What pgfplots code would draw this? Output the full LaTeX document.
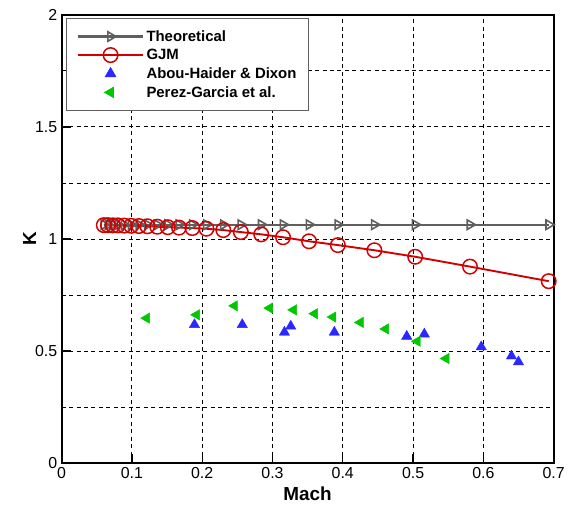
\documentclass[border=0pt]{standalone}
\usepackage{pgfplots}
\pgfplotsset{compat=1.18}
\usepackage{fontspec}
\setmainfont{Liberation Sans}
\definecolor{theo}{RGB}{95,95,95}
\definecolor{gjm}{RGB}{210,0,0}
\definecolor{abou}{RGB}{40,40,255}
\definecolor{perez}{RGB}{0,200,0}
\begin{document}
\begin{tikzpicture}
\begin{axis}[
  width=495pt, height=451pt, scale only axis,
  xmin=0, xmax=0.7, ymin=0, ymax=2,
  xtick={0,0.1,...,0.7},
  xticklabels={0,0.1,0.2,0.3,0.4,0.5,0.6,0.7},
  ytick={0,0.5,1,1.5,2},
  yticklabels={0,0.5,1,1.5,2},
  minor ytick={0.25,0.75,1.25,1.75},
  grid=both,
  major grid style={black, line width=1pt, dash pattern=on 4pt off 3.5pt},
  minor grid style={black, line width=1pt, dash pattern=on 4pt off 3.5pt},
  tick pos=left,
  tick align=inside,
  major tick length=9pt,
  minor tick length=0pt,
  every tick/.style={black, line width=1.4pt},
  axis line style={black, line width=1.8pt},
  /pgf/number format/assume math mode=true,
  tick label style={font=\fontsize{16}{18}\selectfont},
  xticklabel style={yshift=-1pt},
  yticklabel style={xshift=-1pt},
  xlabel={\textbf{Mach}},
  ylabel={\textbf{K}},
  label style={font=\fontsize{19}{21}\selectfont},
  xlabel style={at={(axis description cs:0.5,-0.069)}, anchor=center},
  ylabel style={at={(axis description cs:-0.065,0.5)}, anchor=center},
  legend cell align=left,
  legend style={at={(axis description cs:0.0095,0.993)}, anchor=north west,
    draw=theo, line width=0.8pt, fill=white,
    font=\bfseries\fontsize{15}{17}\selectfont,
    inner xsep=10pt, inner ysep=10pt, row sep=2.5pt,
    /tikz/every even column/.append style={column sep=8pt}},
  legend image code/.code={%
    \draw[mark repeat=2,mark phase=2] plot coordinates {(0pt,0pt) (33pt,0pt) (66pt,0pt)};},
]
\addplot[theo, line width=2.3pt, mark=triangle, mark size=5.5pt,
  mark options={rotate=-90, line width=1.6pt, solid}] coordinates {
(0.060,1.064) (0.066,1.064) (0.073,1.064) (0.080,1.064) (0.089,1.064)
(0.099,1.064) (0.110,1.064) (0.122,1.064) (0.136,1.064) (0.151,1.064)
(0.167,1.064) (0.186,1.064) (0.206,1.064) (0.230,1.064) (0.255,1.064)
(0.284,1.064) (0.315,1.064) (0.352,1.064) (0.393,1.064) (0.445,1.064)
(0.503,1.064) (0.581,1.064) (0.693,1.064)
};
\addlegendentry{Theoretical}
\addplot[gjm, line width=1.9pt, mark=o, mark size=7.3pt,
  mark options={line width=1.5pt, solid}] coordinates {
(0.060,1.062) (0.066,1.062) (0.073,1.061) (0.080,1.061) (0.089,1.060)
(0.099,1.059) (0.110,1.058) (0.122,1.057) (0.136,1.055) (0.151,1.053)
(0.167,1.051) (0.186,1.049) (0.206,1.046) (0.230,1.040) (0.255,1.031)
(0.284,1.021) (0.315,1.008) (0.352,0.990) (0.393,0.973) (0.445,0.950)
(0.503,0.921) (0.581,0.877) (0.693,0.812)
};
\addlegendentry{GJM}
\addplot[only marks, mark=triangle*, mark size=6pt,
  mark options={abou, draw=abou, fill=abou}] coordinates {
(0.189,0.618) (0.257,0.618) (0.326,0.611) (0.317,0.584) (0.388,0.584)
(0.491,0.566) (0.516,0.576) (0.597,0.519) (0.640,0.478) (0.650,0.452)
};
\addlegendentry{Abou-Haider \& Dixon}
\addplot[only marks, mark=triangle*, mark size=6pt,
  mark options={rotate=90, perez, draw=perez, fill=perez}] coordinates {
(0.121,0.647) (0.192,0.662) (0.246,0.702) (0.296,0.692) (0.330,0.684)
(0.360,0.667) (0.386,0.652) (0.425,0.628) (0.461,0.599) (0.506,0.544)
(0.547,0.467)
};
\addlegendentry{Perez-Garcia et al.}
\end{axis}
\path[use as bounding box] (current axis.south west) ++(-62pt,-46pt) rectangle ++(568pt,512pt);
\end{tikzpicture}
\end{document}
